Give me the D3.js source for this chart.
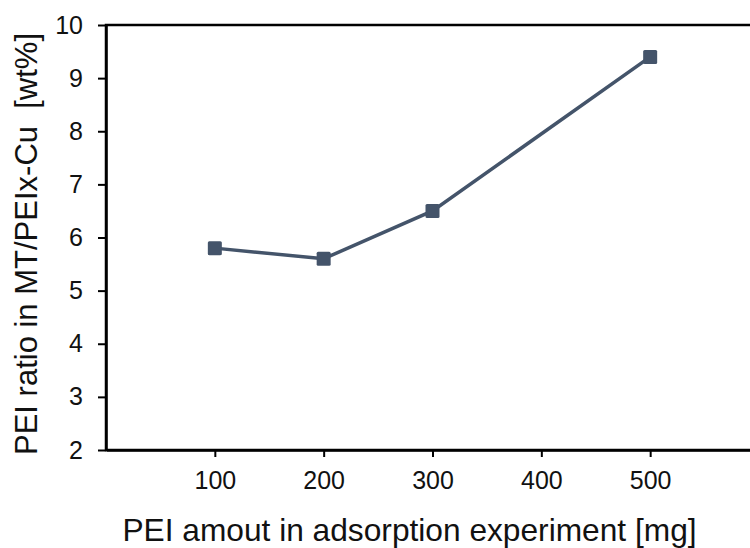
<!DOCTYPE html>
<html>
<head>
<meta charset="utf-8">
<script src="https://cdn.jsdelivr.net/npm/d3@7"></script>
<style>
  html, body { margin: 0; padding: 0; background: #fff; }
  svg { display: block; font-family: "Liberation Sans", Arial, sans-serif; }
</style>
</head>
<body>
<svg id="chart" width="750" height="548"></svg>
<script>
// PEI amount used in the adsorption experiment [mg]
const peiAmount = [100, 200, 300, 500];
// PEI ratio found in MT/PEIx-Cu [wt%]
const peiRatio = [5.8, 5.6, 6.5, 9.4];
const xTicks = [100, 200, 300, 400, 500];
const yTicks = [2, 3, 4, 5, 6, 7, 8, 9, 10];

const svg = d3.select("#chart");
const plotLeft = 106, plotTop = 25, plotBottom = 450, plotRight = 759;

const x = d3.scaleLinear().domain([0, 600]).range([plotLeft, plotRight]);
const y = d3.scaleLinear().domain([2, 10]).range([plotBottom, plotTop]);

// plot frame
svg.append("rect")
  .attr("x", plotLeft).attr("y", plotTop)
  .attr("width", plotRight - plotLeft).attr("height", plotBottom - plotTop)
  .attr("fill", "none").attr("stroke", "#000").attr("stroke-width", 2.5);

// y axis
const gy = svg.append("g")
  .attr("transform", `translate(${plotLeft},0)`)
  .call(d3.axisLeft(y).tickValues(yTicks).tickFormat(d3.format("d"))
    .tickSize(8).tickSizeOuter(0).tickPadding(15));
gy.select(".domain").attr("stroke-width", 2.5);
gy.selectAll(".tick line").attr("stroke-width", 2);
gy.selectAll(".tick text").attr("font-size", 25).attr("fill", "#111")
  .attr("font-family", '"Liberation Sans", Arial, sans-serif');

// x axis
const gx = svg.append("g")
  .attr("transform", `translate(0,${plotBottom})`)
  .call(d3.axisBottom(x).tickValues(xTicks).tickFormat(d3.format("d"))
    .tickSize(7).tickSizeOuter(0).tickPadding(14));
gx.select(".domain").attr("stroke-width", 2.5);
gx.selectAll(".tick line").attr("stroke-width", 2);
gx.selectAll(".tick text").attr("font-size", 25).attr("fill", "#111")
  .attr("font-family", '"Liberation Sans", Arial, sans-serif');

// series line
const pts = peiAmount.map((d, i) => [d, peiRatio[i]]);
svg.append("path")
  .datum(pts)
  .attr("fill", "none")
  .attr("stroke", "#44546A")
  .attr("stroke-width", 3.5)
  .attr("d", d3.line().x(d => x(d[0])).y(d => y(d[1])));

// square markers
const m = 14;
svg.selectAll("rect.marker")
  .data(pts)
  .join("rect")
  .attr("class", "marker")
  .attr("x", d => x(d[0]) - m / 2)
  .attr("y", d => y(d[1]) - m / 2)
  .attr("width", m).attr("height", m)
  .attr("rx", 1.5)
  .attr("fill", "#44546A");

// axis titles
svg.append("text")
  .attr("x", 409.5).attr("y", 541)
  .attr("text-anchor", "middle")
  .attr("font-size", 31.7)
  .attr("fill", "#111")
  .text("PEI amout in adsorption experiment [mg]");

svg.append("text")
  .attr("transform", "translate(37,244) rotate(-90)")
  .attr("text-anchor", "middle")
  .attr("font-size", 31)
  .attr("fill", "#111")
  .style("white-space", "pre")
  .text("PEI ratio in MT/PEIx-Cu  [wt%]");
</script>
</body>
</html>
